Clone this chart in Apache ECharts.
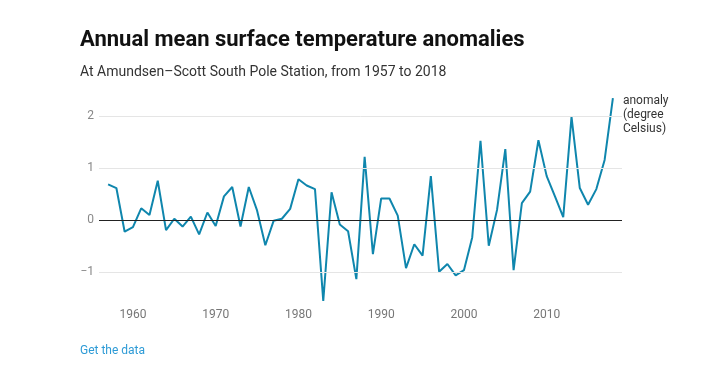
<!DOCTYPE html>
<html>
<head>
<meta charset="utf-8">
<script src="https://cdn.jsdelivr.net/npm/echarts@6/dist/echarts.min.js"></script>
<style>html,body{margin:0;padding:0;background:#fff;}#c{width:706px;height:386px;}</style>
</head>
<body>
<div id="c"></div>
<script>
const years = [1957,1958,1959,1960,1961,1962,1963,1964,1965,1966,1967,1968,1969,1970,1971,1972,1973,1974,1975,1976,1977,1978,1979,1980,1981,1982,1983,1984,1985,1986,1987,1988,1989,1990,1991,1992,1993,1994,1995,1996,1997,1998,1999,2000,2001,2002,2003,2004,2005,2006,2007,2008,2009,2010,2011,2012,2013,2014,2015,2016,2017,2018];
const anomaly = [0.69,0.62,-0.22,-0.13,0.23,0.10,0.76,-0.19,0.03,-0.12,0.07,-0.27,0.15,-0.11,0.46,0.64,-0.12,0.64,0.19,-0.48,-0.01,0.03,0.22,0.79,0.67,0.60,-1.55,0.54,-0.08,-0.21,-1.13,1.22,-0.65,0.42,0.42,0.09,-0.92,-0.46,-0.68,0.85,-0.99,-0.84,-1.06,-0.96,-0.33,1.53,-0.49,0.20,1.37,-0.96,0.33,0.55,1.54,0.85,0.46,0.06,1.99,0.62,0.30,0.60,1.16,2.35];
const xTicks = [1960,1970,1980,1990,2000,2010];
const yTicks = [-1,0,1,2];

const chart = echarts.init(document.getElementById('c'), null, {renderer:'canvas'});
const fontFamily = 'Roboto, sans-serif';
chart.setOption({
  animation: false,
  textStyle: {fontFamily},
  title: [
    {text: 'Annual mean surface temperature anomalies', left: 80, top: 29, padding: 0,
     textStyle: {fontSize: 22, fontWeight: 'bold', color: '#111', fontFamily}},
    {text: 'At Amundsen–Scott South Pole Station, from 1957 to 2018', left: 80, top: 65, padding: 0,
     textStyle: {fontSize: 14, fontWeight: 'normal', color: '#333', fontFamily}},
    {text: 'Get the data', left: 80, top: 345, padding: 0,
     textStyle: {fontSize: 12, fontWeight: 'normal', color: '#2e9bd6', fontFamily}}
  ],
  grid: {left: 99, right: 84, top: 95.5, bottom: 82.5, containLabel: false},
  xAxis: {
    type: 'value', min: 1955.9, max: 2019.1,
    axisLine: {show: false}, axisTick: {show: false}, splitLine: {show: false},
    axisLabel: {customValues: xTicks, color: '#777', fontSize: 12, margin: 5, fontFamily,
      formatter: v => String(v)}
  },
  yAxis: {
    type: 'value', min: -1.6, max: 2.4,
    axisLine: {show: false}, axisTick: {show: false}, splitLine: {show: false},
    axisLabel: {customValues: yTicks, color: '#888', fontSize: 12, margin: 5, fontFamily,
      formatter: v => v < 0 ? '\u2212' + Math.abs(v) : String(v)}
  },
  series: [{
    type: 'line',
    data: years.map((y, i) => [y, anomaly[i]]),
    showSymbol: false,
    lineStyle: {color: '#0f86ad', width: 2},
    itemStyle: {color: '#0f86ad'},
    z: 3,
    endLabel: {show: true, formatter: 'anomaly\n(degree\nCelsius)', color: '#333', fontSize: 12,
      lineHeight: 14, align: 'left', verticalAlign: 'top', distance: 10, offset: [0, -4], fontFamily},
    markLine: {
      silent: true, symbol: 'none', label: {show: false}, animation: false,
      data: yTicks.map(v => ({yAxis: v, lineStyle: {color: v === 0 ? '#222' : '#e5e5e5', width: 1, type: 'solid'}}))
    }
  }]
});
</script>
</body>
</html>
